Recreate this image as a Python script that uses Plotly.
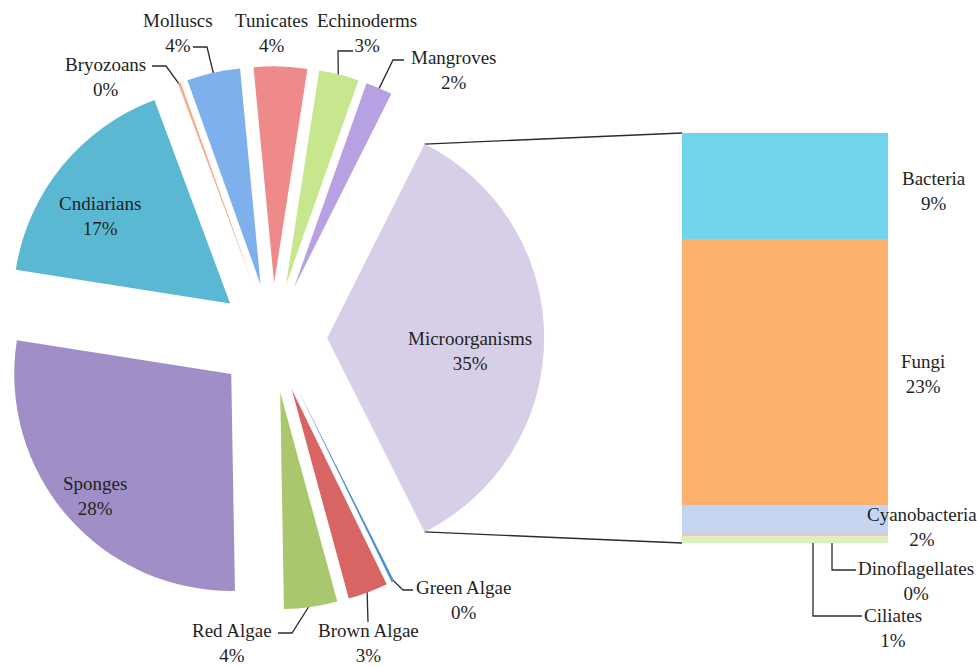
import math
import plotly.graph_objects as go

# ---- data -------------------------------------------------------------
# Main pie slices, listed counter-clockwise after the split-off slice
pie_labels = ["Mangroves", "Echinoderms", "Tunicates", "Molluscs", "Bryozoans",
              "Cndiarians", "Sponges", "Red Algae", "Brown Algae", "Green Algae"]
pie_values = [2, 3, 4, 4, 0.2, 17, 28, 4, 3, 0.2]

# Breakdown of the split-off "Microorganisms" slice (top to bottom of the bar)
bar_labels = ["Bacteria", "Fungi", "Cyanobacteria", "Dinoflagellates", "Ciliates"]
bar_values = [9.2, 23.0, 2.4, 0.3, 0.6]

split_label = "Microorganisms"
split_value = sum(bar_values)

# ---- styling ----------------------------------------------------------
pie_colors = {
    "Microorganisms": "#d7cfe7", "Mangroves": "#b7a1e3", "Echinoderms": "#c6e78e",
    "Tunicates": "#ee8a8a", "Molluscs": "#7fb0ee", "Bryozoans": "#f2ab8a",
    "Cndiarians": "#5bb8d2", "Sponges": "#a08fc6", "Red Algae": "#a9c86d",
    "Brown Algae": "#d96464", "Green Algae": "#4a8fd2",
}
bar_colors = {
    "Bacteria": "#72d4ea", "Fungi": "#fbb16c", "Cyanobacteria": "#c5d5f1",
    "Dinoflagellates": "#f1c2c2", "Ciliates": "#d9f1bd",
}

W, H = 977, 668
FONT = dict(family="Liberation Serif, Times New Roman, serif", size=19, color="#1f1f1f")
LINE = dict(color="#2b2b2b", width=1.3)

# pie centre / radius / explode distance (pixels) and bar box (pixels)
CX, CY, R, PULL = 272.5, 338.0, 217.0, 0.252
BX0, BX1, BY0, BY1 = 682.0, 888.0, 133.0, 543.0

# label centres (pixels)
label_center = {
    "Microorganisms": (470, 351), "Cndiarians": (100, 216), "Sponges": (95, 496),
    "Bryozoans": (105, 77), "Molluscs": (178, 33), "Tunicates": (271, 33),
    "Echinoderms": (367, 33), "Mangroves": (453, 70), "Red Algae": (232, 643),
    "Brown Algae": (368, 643), "Green Algae": (463, 600),
    "Bacteria": (934, 191), "Fungi": (923, 374), "Cyanobacteria": (922, 527),
    "Dinoflagellates": (916, 581), "Ciliates": (893, 628),
}
# leader-line bends and ends (pixels), drawn from the slice / segment edge
leader_bends = {
    "Bryozoans": [(166, 66), (152, 66)],
    "Molluscs": [(207, 47), (193, 47)],
    "Echinoderms": [(338, 51), (353, 51)],
    "Mangroves": [(393, 60), (404, 60)],
    "Red Algae": [(292, 633), (278, 633)],
    "Brown Algae": [(368, 622)],
    "Green Algae": [(403, 590), (413, 590)],
    "Dinoflagellates": [(832, 570), (856, 570)],
    "Ciliates": [(813, 616), (862, 616)],
}
bar_leader_x = {"Dinoflagellates": 832, "Ciliates": 813}


def px(x):
    return x / W


def py(y):
    return 1 - y / H


def polar(r, ang_deg, cx=CX, cy=CY):
    # angle measured clockwise from 12 o'clock, as the pie trace does
    a = math.radians(ang_deg)
    return cx + r * math.sin(a), cy - r * math.cos(a)


all_labels = [split_label] + pie_labels
all_values = [split_value] + pie_values
total = sum(all_values)
split_deg = 360 * split_value / total
rotation = 90 - split_deg / 2  # split-off slice centred at 3 o'clock

# slice mid-angles, mirroring the counter-clockwise layout of the pie
mid_angle = {split_label: rotation + split_deg / 2}
cur = rotation
for lab, val in zip(pie_labels, pie_values):
    d = 360 * val / total
    mid_angle[lab] = cur - d / 2
    cur -= d

half = R * (1 + PULL)
fig = go.Figure()
fig.add_trace(go.Pie(
    labels=all_labels, values=all_values, sort=False, direction="counterclockwise",
    rotation=rotation, pull=[PULL] * len(all_values),
    marker=dict(colors=[pie_colors[l] for l in all_labels], line=dict(width=0)),
    textinfo="none", hoverinfo="label+percent", showlegend=False,
    domain=dict(x=[max(0, px(CX - half)), px(CX + half)],
                y=[py(CY + half), py(CY - half)]),
))

# stacked bar: bottom segment first
bar_total = sum(bar_values)
for lab, val in reversed(list(zip(bar_labels, bar_values))):
    fig.add_trace(go.Bar(
        x=[0], y=[val], width=1, marker=dict(color=bar_colors[lab], line=dict(width=0)),
        name=lab, showlegend=False, xaxis="x", yaxis="y",
        hovertemplate=lab + ": %{y}<extra></extra>",
    ))

annotations = []
shapes = []


def pct(v):
    return "{:.0f}%".format(100 * v / total)


def add_label(lab, val):
    x, y = label_center[lab]
    annotations.append(dict(
        x=px(x), y=py(y), xref="paper", yref="paper", text=f"{lab}<br>{pct(val)}",
        showarrow=False, font=FONT, xanchor="center", yanchor="middle", align="center",
    ))


def add_path(points):
    d = "M " + " L ".join(f"{px(x):.5f},{py(y):.5f}" for x, y in points)
    shapes.append(dict(type="path", path=d, xref="paper", yref="paper",
                       line=LINE, layer="below"))


for lab, val in zip(all_labels, all_values):
    add_label(lab, val)
    if lab in leader_bends:
        anchor = polar(R * (1 + PULL) - 3, mid_angle[lab])
        add_path([anchor] + leader_bends[lab])

# bar segment labels
seg_top = BY0
for lab, val in zip(bar_labels, bar_values):
    h = (BY1 - BY0) * val / bar_total
    add_label(lab, val)
    if lab in leader_bends:
        add_path([(bar_leader_x[lab], seg_top + h / 2)] + leader_bends[lab])
    seg_top += h

# connectors from the split-off slice to the bar
apex = polar(R * PULL, mid_angle[split_label])
top_corner = polar(R, rotation, *apex)
bot_corner = polar(R, rotation + split_deg, *apex)
add_path([top_corner, (BX0, BY0)])
add_path([bot_corner, (BX0, BY1)])

fig.update_layout(
    width=W, height=H, margin=dict(l=0, r=0, t=0, b=0),
    paper_bgcolor="white", plot_bgcolor="white",
    barmode="stack", bargap=0,
    xaxis=dict(domain=[px(BX0), px(BX1)], range=[-0.5, 0.5], visible=False, fixedrange=True),
    yaxis=dict(domain=[py(BY1), py(BY0)], range=[0, bar_total], visible=False, fixedrange=True),
    annotations=annotations, shapes=shapes, showlegend=False,
)

fig.write_html("out.html")
